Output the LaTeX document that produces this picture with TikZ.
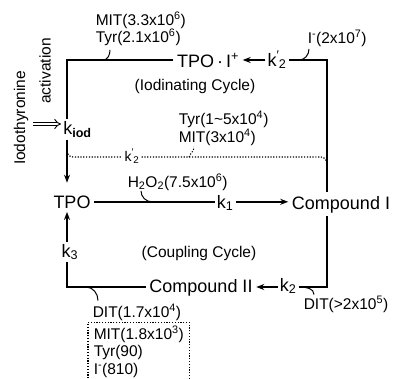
\documentclass[tikz,border=0pt]{standalone}
\usepackage{fontspec}
\setmainfont{Liberation Sans}
\usepackage{xcolor}
\usepackage{tikz}
\usetikzlibrary{arrows.meta, calc, fit}
\newcommand{\kpr}[1]{k\textsuperscript{\char"2032}\kern-0.5pt\textsubscript{#1}}

\begin{document}
\begin{tikzpicture}[x=1pt, y=-1pt,
		spec/.style={font=\fontsize{18}{20}\selectfont, inner sep=3pt, anchor=base},
		rate/.style={font=\fontsize{18}{20}\selectfont, inner sep=1.5pt, anchor=base},
		lbl/.style={font=\fontsize{15.5}{17}\selectfont, inner sep=0pt, anchor=base west},
		hook/.style={line width=1pt},
		dots/.style={line width=1.2pt, dash pattern=on 1.2pt off 1.6pt},
		line width=1.5pt,
		>={Stealth[length=8pt, width=6pt]}
	]
	\useasboundingbox (0,0) rectangle (398,378);

	% ===== Species and rate constants =====
	\node[spec] (tpoi)  at (208,67)  {TPO\,\textperiodcentered\,I\textsuperscript{+}};
	\node[spec] (tpo)   at (72,208)  {TPO};
	\node[spec] (cpdI)  at (341,209) {Compound I};
	\node[spec] (cpdII) at (201,292) {Compound II};

	\node[rate] (k2p) at (277,66)  {\kpr{2}};
	\node[rate] (k1)  at (225,208) {k\textsubscript{1}};
	\node[rate] (k2)  at (288,291) {k\textsubscript{2}};
	\node[rate] (k3)  at (70,257)  {k\textsubscript{3}};
	\node[rate, anchor=base west] (kiod) at (61,134) {k\textsubscript{\textbf{iod}}};
	\node[rate, font=\fontsize{14}{16}\selectfont] (k2d) at (132,161) {\kpr{2}};

	% corners of the two cycles
	\coordinate (TL) at (67,60);
	\coordinate (TR) at (327,60);
	\coordinate (BL) at (67,287);
	\coordinate (BR) at (327,287);
	\coordinate (dotY) at (0,157);
	\coordinate (dotL) at (67,151);
	\coordinate (dotR) at (327,164);

	% ===== Iodinating cycle =====
	\draw (cpdI.north -| TR) -- (TR) -- (TR -| k2p.east);
	\draw[->] (TR -| k2p.west) -- (TR -| tpoi.east);
	\draw (TR -| tpoi.west) -- (TL) -- (TL |- kiod.north);
	\draw[->, shorten >=9pt] (TL |- kiod.south) -- (TL |- tpo.north);

	% dotted short cut through k2'
	\draw[dots] (dotL) to[out=-90, in=180] (73,157) -- (dotY -| k2d.west);
	\draw[dots] (dotY -| k2d.east) -- (321,157) to[out=0, in=90] (dotR);

	% ===== Coupling cycle =====
	\draw (tpo.east) -- (tpo.east -| k1.west);
	\draw[->] (tpo.east -| k1.east) -- (tpo.east -| cpdI.west);
	\draw (cpdI.south -| BR) -- (BR) -- (BR -| k2.east);
	\draw[->] (BR -| k2.west) -- (BR -| cpdII.east);
	\draw (BR -| cpdII.west) -- (BL) -- (BL |- k3.south);
	\draw[->] (BL |- k3.north) -- (BL |- tpo.south);

	\node[lbl, anchor=base] (iodC) at (195,90)  {(Iodinating Cycle)};
	\node[lbl, anchor=base] (cplC) at (199,257) {(Coupling Cycle)};

	% ===== Substrates with their rates =====
	\node[lbl] (mitA) at (95,25)   {MIT(3.3x10\textsuperscript{6})};
	\node[lbl] (tyrA) at (95,42)   {Tyr(2.1x10\textsuperscript{6})};
	\node[lbl] (iodA) at (307,43)  {I\textsuperscript{-}(2x10\textsuperscript{7})};
	\node[lbl] (tyrB) at (178,124) {Tyr(1\textasciitilde 5x10\textsuperscript{4})};
	\node[lbl] (mitB) at (178,142) {MIT(3x10\textsuperscript{4})};
	\node[lbl] (hoo)  at (127,187) {H\textsubscript{2}O\textsubscript{2}(7.5x10\textsuperscript{6})};
	\node[lbl] (ditA) at (303,309) {DIT(>2x10\textsuperscript{5})};
	\node[lbl] (ditB) at (92,317)  {DIT(1.7x10\textsuperscript{4})};
	\node[lbl] (mitC) at (93,339)  {MIT(1.8x10\textsuperscript{3})};
	\node[lbl] (tyrC) at (93,356)  {Tyr(90)};
	\node[lbl] (iodD) at (93,374)  {I\textsuperscript{-}(810)};
	\node[draw, dots, inner xsep=5pt, inner ysep=3pt,
		fit=(mitC)(tyrC)(iodD)] (dbox) {};

	\draw[hook] ($(tyrA.south west)+(15,4)$) to[out=-90, in=0] ($(tyrA.south west |- TL)+(8,0)$);
	\draw[hook] ($(iodA.south west)+(2,2)$) to[out=-90, in=0] ($(iodA.south west |- TL)+(-8,0)$);
	\draw[hook, dots, line width=1pt] ($(mitB.south west |- dotY)+(11,0)$) to[out=70, in=-90] ($(mitB.south west)+(16,1)$);
	\draw[hook] ($(hoo.south west)+(14,0)$) to[out=-90, in=180] ($(hoo.south west |- tpo.east)+(25,0)$);
	\draw[hook] ($(ditA.north west |- BR)+(-3,0)$) to[out=0, in=90] ($(ditA.north west)+(11,-1)$);
	\draw[hook] ($(ditB.north west |- BR)+(-6,0)$) to[out=0, in=90] ($(ditB.north west)+(6,-3)$);

	% ===== Activation input =====
	\node[lbl, anchor=center, rotate=90] (iodo) at (21,118) {Iodothyronine};
	\node[lbl, anchor=center, rotate=90] (actv) at (45,71)  {activation};
	\coordinate (actTail) at (33,124);
	\draw[double, double distance=2.5pt, line width=0.9pt, -{Implies}] (actTail) -- (actTail -| kiod.west);
\end{tikzpicture}
\end{document}
